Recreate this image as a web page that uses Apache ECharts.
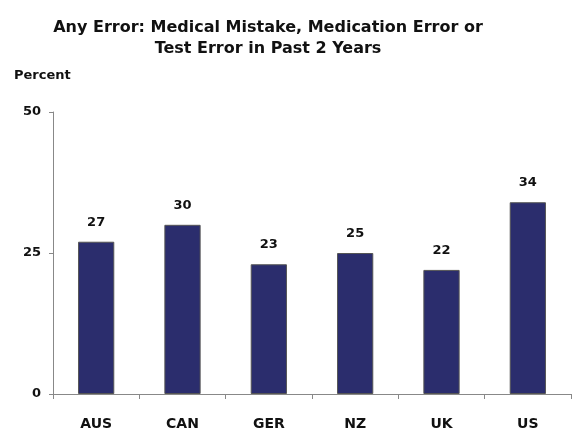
<!DOCTYPE html>
<html><head><meta charset="utf-8">
<script src="https://cdn.jsdelivr.net/npm/echarts@6/dist/echarts.min.js"></script>
<style>html,body{margin:0;padding:0;background:#fff}#c{width:575px;height:431px}</style>
</head><body><div id="c"></div>
<script>
const categories = ["AUS", "CAN", "GER", "NZ", "UK", "US"];
const values = [27, 30, 23, 25, 22, 34];
const yTicks = [0, 25, 50];

const F = '"DejaVu Sans", Verdana, sans-serif';
const chart = echarts.init(document.getElementById('c'), null, {renderer: 'canvas'});
chart.setOption({
  animation: false,
  backgroundColor: '#fff',
  title: {
    text: 'Any Error: Medical Mistake, Medication Error or\nTest Error in Past 2 Years',
    left: 263, textAlign: 'center', top: 12,
    textStyle: {fontFamily: F, fontWeight: 'bold', fontSize: 16, lineHeight: 21, color: '#111'}
  },
  graphic: [{
    type: 'text', left: 14, top: 69,
    style: {text: 'Percent', font: 'bold 13px "DejaVu Sans", Verdana, sans-serif', fill: '#111'}
  }],
  grid: {left: 53, right: 4, top: 112, bottom: 35},
  xAxis: {
    type: 'category', data: categories,
    axisLine: {lineStyle: {color: '#888', width: 1}},
    axisTick: {show: true, alignWithLabel: false, length: 5, lineStyle: {color: '#888'}},
    axisLabel: {margin: 23, fontFamily: F, fontWeight: 'bold', fontSize: 14, color: '#111'}
  },
  yAxis: {
    type: 'value', min: yTicks[0], max: yTicks[yTicks.length - 1], interval: 25,
    splitLine: {show: false},
    axisLine: {show: true, lineStyle: {color: '#888', width: 1}},
    axisTick: {show: true, length: 4, lineStyle: {color: '#888'}},
    axisLabel: {margin: 12, fontFamily: F, fontWeight: 'bold', fontSize: 13, color: '#111'}
  },
  series: [{
    type: 'bar', data: values, barCategoryGap: '58%',
    itemStyle: {color: '#2B2D6D', borderColor: '#555', borderWidth: 1},
    label: {show: true, position: 'top', distance: 13, fontFamily: F, fontWeight: 'bold', fontSize: 13, color: '#111'}
  }]
});
</script></body></html>
